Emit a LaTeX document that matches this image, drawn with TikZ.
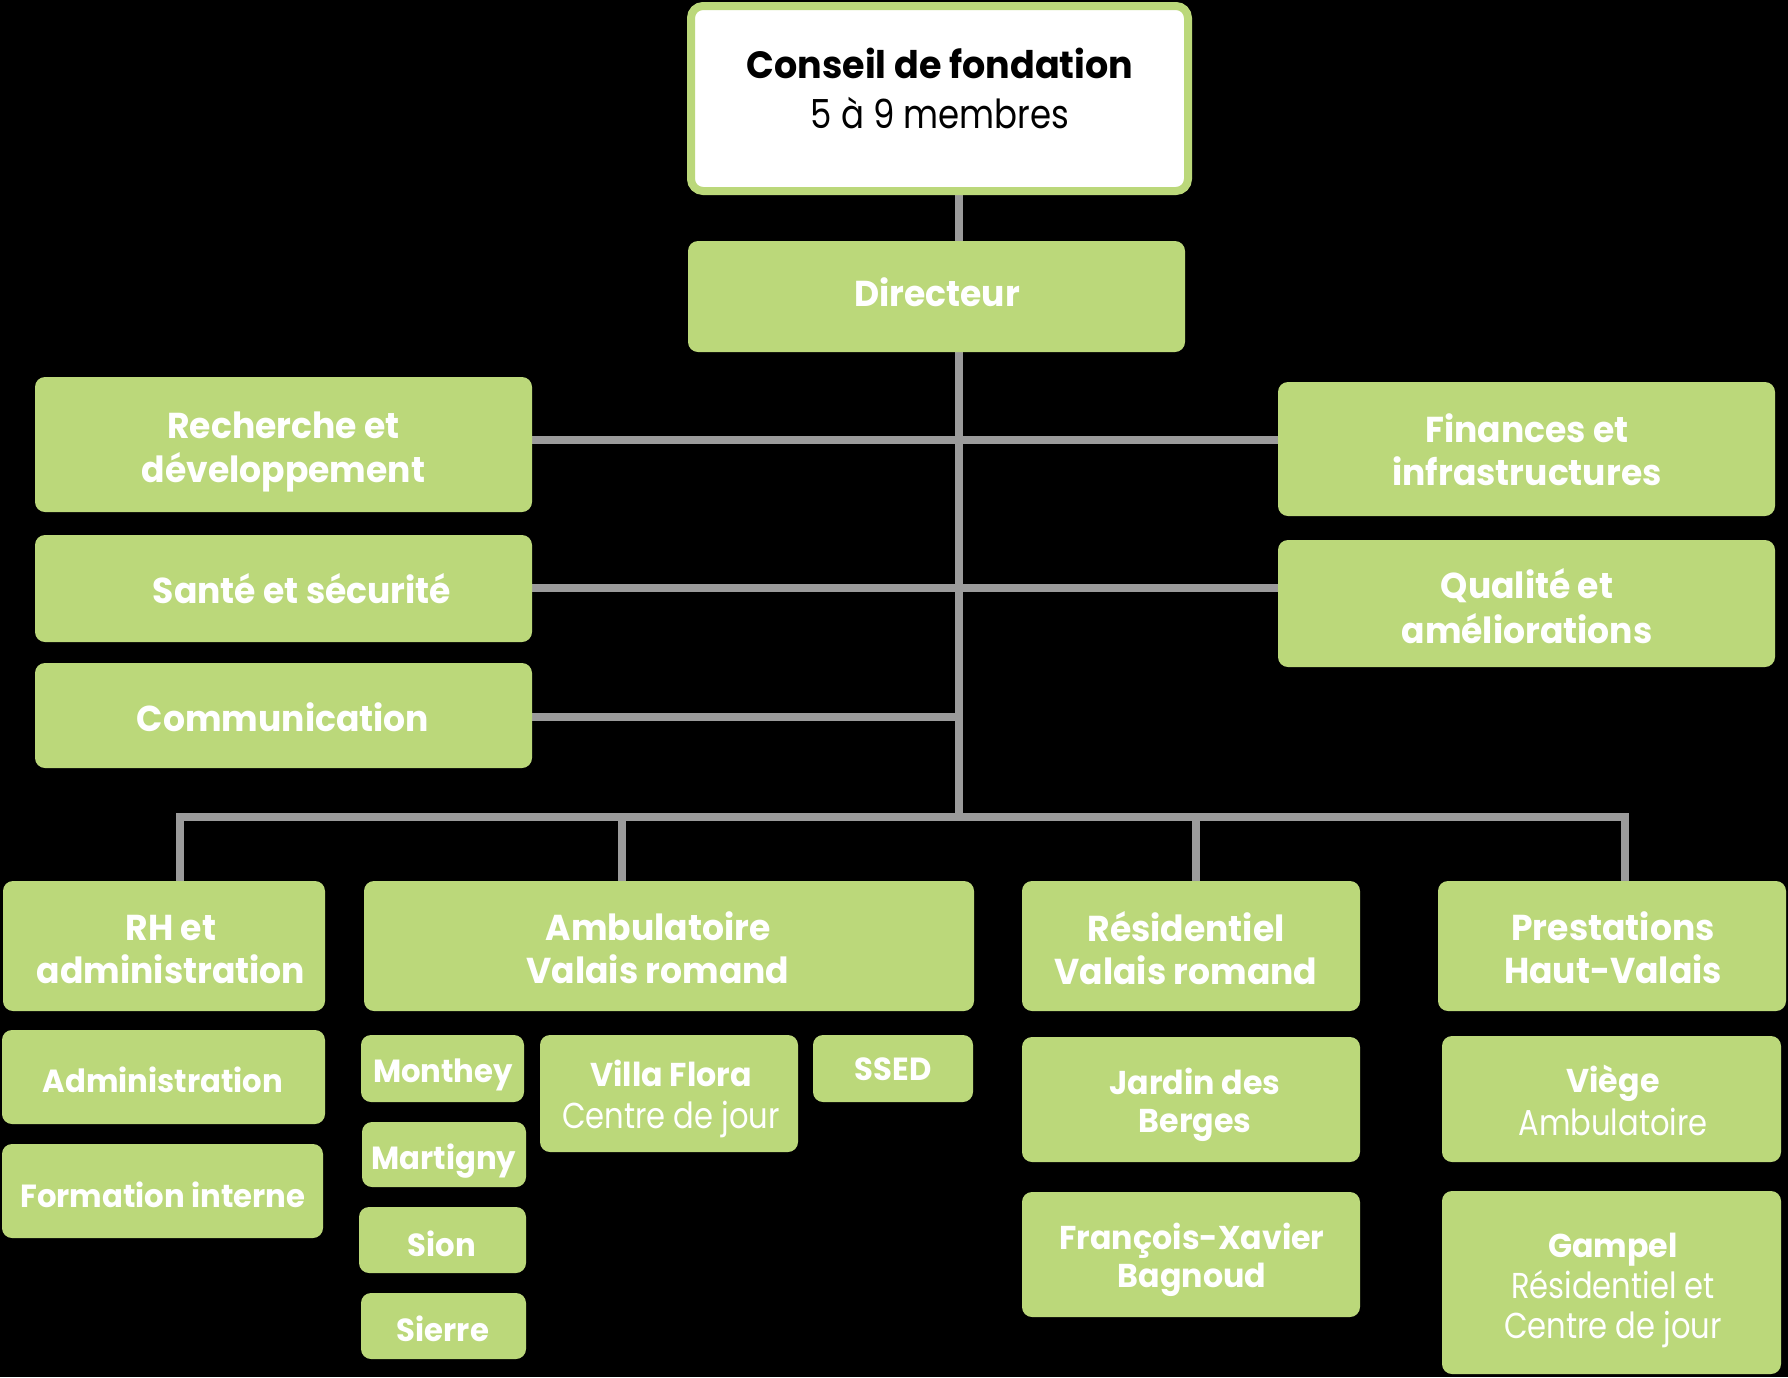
\documentclass[tikz,border=0pt]{standalone}
\usepackage{fontspec}
\setmainfont{Poppins}[FakeStretch=0.96]
\newfontfamily\lightf{Poppins}[FakeStretch=0.85]
\usetikzlibrary{backgrounds}
\definecolor{grn}{RGB}{187,216,122}
\definecolor{lin}{RGB}{155,155,155}
\newdimen\pxu \pxu=0.5pt
\newcommand\lt[3]{{\lightf\mdseries\fontsize{#1}{#2}\selectfont\strut #3}}
\begin{document}
\begin{tikzpicture}[x=0.5pt,y=-0.5pt,
  gbox/.style={fill=grn, rounded corners=5pt, inner sep=0pt},
  wbox/.style={fill=white, draw=grn, line width=4pt, rounded corners=6pt, inner sep=0pt},
  txt/.style={text=white, align=center, inner sep=0pt, font=\bfseries\fontsize{18}{20.5}\selectfont},
  subtxt/.style={txt, font=\bfseries\fontsize{16.5}{20.5}\selectfont},
  stxt/.style={txt, font=\bfseries\fontsize{16}{20.5}\selectfont},
  conn/.style={draw=lin, line width=4pt}]
\useasboundingbox (0,0) rectangle (1788,1377);
% boxes
\node[wbox, minimum width=497\pxu, minimum height=185\pxu] (conseil) at (939.5,98.5) {};
\node[gbox, minimum width=497\pxu, minimum height=111\pxu] (dir) at (936.5,296.5) {};
\node[gbox, minimum width=497\pxu, minimum height=135\pxu] (rd) at (283.5,444.5) {};
\node[gbox, minimum width=497\pxu, minimum height=107\pxu] (ss) at (283.5,588.5) {};
\node[gbox, minimum width=497\pxu, minimum height=105\pxu] (com) at (283.5,715.5) {};
\node[gbox, minimum width=497\pxu, minimum height=134\pxu] (fi) at (1526.5,449) {};
\node[gbox, minimum width=497\pxu, minimum height=127\pxu] (qa) at (1526.5,603.5) {};
\node[gbox, minimum width=322\pxu, minimum height=130\pxu] (rh) at (164,946) {};
\node[gbox, minimum width=323\pxu, minimum height=94\pxu] (adm) at (163.5,1077) {};
\node[gbox, minimum width=321\pxu, minimum height=94\pxu] (form) at (162.5,1191) {};
\node[gbox, minimum width=610\pxu, minimum height=130\pxu] (amb) at (669,946) {};
\node[gbox, minimum width=163\pxu, minimum height=67\pxu] (mon) at (442.5,1068.5) {};
\node[gbox, minimum width=164\pxu, minimum height=65\pxu] (mar) at (444,1154.5) {};
\node[gbox, minimum width=167\pxu, minimum height=66\pxu] (sion) at (442.5,1240) {};
\node[gbox, minimum width=165\pxu, minimum height=66\pxu] (sie) at (443.5,1326) {};
\node[gbox, minimum width=258\pxu, minimum height=117\pxu] (vf) at (669,1093.5) {};
\node[gbox, minimum width=160\pxu, minimum height=67\pxu] (ssed) at (893,1068.5) {};
\node[gbox, minimum width=338\pxu, minimum height=130\pxu] (res) at (1191,946) {};
\node[gbox, minimum width=338\pxu, minimum height=125\pxu] (jdb) at (1191,1099.5) {};
\node[gbox, minimum width=338\pxu, minimum height=125\pxu] (fxb) at (1191,1254.5) {};
\node[gbox, minimum width=348\pxu, minimum height=130\pxu] (pre) at (1612,946) {};
\node[gbox, minimum width=339\pxu, minimum height=126\pxu] (vie) at (1611.5,1099) {};
\node[gbox, minimum width=339\pxu, minimum height=183\pxu] (gam) at (1611.5,1282.5) {};
% texts
\node[txt, text=black, font=\bfseries\fontsize{19}{25}\selectfont] (conseil-t) at (940,93.5) {\strut Conseil de fondation\\\lt{20}{25}{5 à 9 membres}};
\node[txt] (dir-t) at (937,298) {\strut Directeur};
\node[txt] (rd-t) at (283.5,452) {\strut Recherche et\\\strut développement};
\node[txt] (ss-t) at (302,595) {\strut Santé et sécurité};
\node[txt] (com-t) at (283,723) {\strut Communication};
\node[txt] (fi-t) at (1527,456) {\strut Finances et\\\strut infrastructures};
\node[txt] (qa-t) at (1527,612) {\strut Qualité et\\\strut améliorations};
\node[txt] (rh-t) at (171,954) {\strut RH et\\\strut administration};
\node[txt] (amb-t) at (658,954) {\strut Ambulatoire\\\strut Valais romand};
\node[txt] (res-t) at (1186,954) {\strut Résidentiel\\\strut Valais romand};
\node[txt] (pre-t) at (1613,954) {\strut Prestations\\\strut Haut-Valais};
\node[stxt] (adm-t) at (163,1084) {\strut Administration};
\node[stxt] (form-t) at (163,1199) {\strut Formation interne};
\node[stxt] (mon-t) at (443,1074) {\strut Monthey};
\node[stxt] (mar-t) at (444,1161) {\strut Martigny};
\node[stxt] (sion-t) at (442,1248) {\strut Sion};
\node[stxt] (sie-t) at (443,1333) {\strut Sierre};
\node[subtxt, font=\bfseries\fontsize{16.5}{21}\selectfont] (vf-t) at (671,1099) {\strut Villa Flora\\\lt{18}{21}{Centre de jour}};
\node[stxt] (ssed-t) at (893,1072) {\strut SSED};
\node[subtxt, font=\bfseries\fontsize{16.5}{19}\selectfont] (jdb-t) at (1195,1106) {\strut Jardin des\\\strut Berges};
\node[subtxt, font=\bfseries\fontsize{16.5}{19}\selectfont] (fxb-t) at (1192,1261) {\strut François-Xavier\\\strut Bagnoud};
\node[subtxt, font=\bfseries\fontsize{16.5}{21.5}\selectfont] (vie-t) at (1613,1105) {\strut Viège\\\lt{18}{21.5}{Ambulatoire}};
\node[subtxt, font=\bfseries\fontsize{16.5}{20.25}\selectfont] (gam-t) at (1613,1290) {\strut Gampel\\\lt{18}{20.25}{Résidentiel et}\\\lt{18}{20.25}{Centre de jour}};
% connectors
\coordinate (bus) at (959,817);
\coordinate (h1) at (959,440);
\coordinate (h2) at (959,588);
\coordinate (h3) at (959,717);
\coordinate (d1) at (180,817);
\coordinate (d2) at (622,817);
\coordinate (d3) at (1196,817);
\coordinate (d4) at (1625,817);
\begin{scope}[on background layer]
\fill[black] (0,0) rectangle (1788,1377);
\draw[conn] (conseil.south -| bus) -- (bus);
\draw[conn] (rd.east |- h1) -- (fi.west |- h1);
\draw[conn] (ss.east |- h2) -- (qa.west |- h2);
\draw[conn] (com.east |- h3) -- (h3);
\draw[conn] (d1 |- rh.north) -- (d1) -- (d4) -- (d4 |- pre.north);
\draw[conn] (d2) -- (d2 |- amb.north);
\draw[conn] (d3) -- (d3 |- res.north);
\end{scope}
\end{tikzpicture}
\end{document}
